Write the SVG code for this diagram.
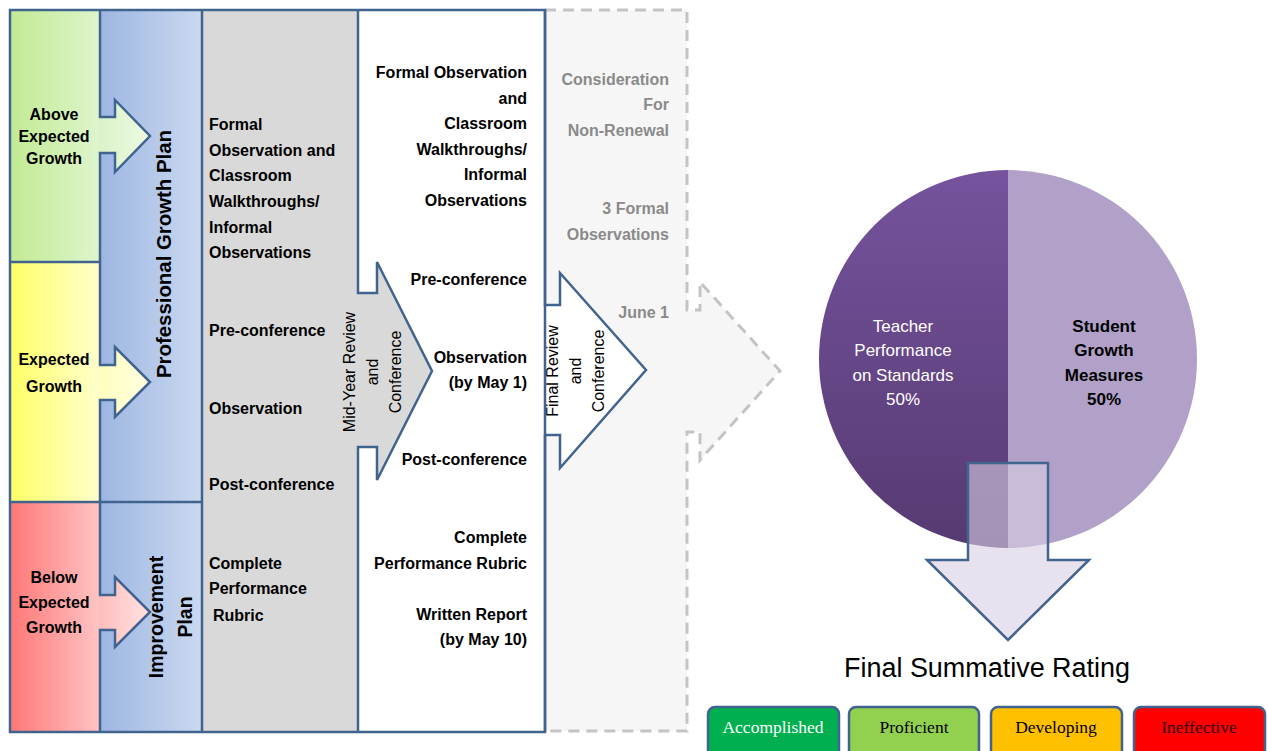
<svg xmlns="http://www.w3.org/2000/svg" width="1268" height="751" viewBox="0 0 1268 751">
<defs>
  <linearGradient id="gGreen" x1="0" x2="1" y1="0" y2="0"><stop offset="0" stop-color="#c1ea93"/><stop offset="1" stop-color="#def5cc"/></linearGradient>
  <linearGradient id="gYellow" x1="0" x2="1" y1="0" y2="0"><stop offset="0" stop-color="#ffff66"/><stop offset="1" stop-color="#ffffcc"/></linearGradient>
  <linearGradient id="gRed" x1="0" x2="1" y1="0" y2="0"><stop offset="0" stop-color="#ff7777"/><stop offset="1" stop-color="#ffc4c4"/></linearGradient>
  <linearGradient id="gBlue" x1="0" x2="1" y1="0" y2="0"><stop offset="0" stop-color="#9db6e2"/><stop offset="1" stop-color="#cbd9f0"/></linearGradient>
  <linearGradient id="aGreen" x1="0" x2="1" y1="0" y2="0"><stop offset="0" stop-color="#daf3c6"/><stop offset="1" stop-color="#eefae4"/></linearGradient>
  <linearGradient id="aYellow" x1="0" x2="1" y1="0" y2="0"><stop offset="0" stop-color="#ffffbe"/><stop offset="1" stop-color="#ffffe2"/></linearGradient>
  <linearGradient id="aRed" x1="0" x2="1" y1="0" y2="0"><stop offset="0" stop-color="#ffbcbc"/><stop offset="1" stop-color="#ffe2e2"/></linearGradient>
  <linearGradient id="gPie" x1="0" x2="0" y1="0" y2="1"><stop offset="0" stop-color="#76539d"/><stop offset="1" stop-color="#553a72"/></linearGradient>
</defs>
<style>
  .t {font-family:"Liberation Sans",Arial,sans-serif;font-weight:bold;font-size:16px;fill:#000}
  .g {fill:#8a8a8a}
  .r {font-family:"Liberation Sans",Arial,sans-serif;font-size:16px;fill:#000}
  .v {font-family:"Liberation Sans",Arial,sans-serif;font-weight:bold;font-size:19.5px;fill:#000}
  .p {font-family:"Liberation Sans",Arial,sans-serif;font-size:17px}
  .sep {fill:none;stroke:#41648f;stroke-width:2.5;stroke-linejoin:miter}
  .dash {fill:none;stroke:#c4c4c4;stroke-width:3;stroke-dasharray:11 7}
  .rate {stroke:#41648f;stroke-width:2.5}
  .rt {font-family:"Liberation Serif","Times New Roman",serif;font-size:17.5px;text-anchor:middle}
</style>

<g id="non-renewal">
  <path d="M545,10 H687 V310 H700 V282 L780,371 L700,460 V432 H687 V731 H545 Z" fill="#f6f6f6"/>
  <path class="dash" d="M545,10 H687 V310 H700 V282 L780,371 L700,460 V432 H687 V731 H545"/>
  <g class="t g" text-anchor="end">
    <text x="669" y="85">Consideration</text>
    <text x="669" y="110">For</text>
    <text x="669" y="136">Non-Renewal</text>
    <text x="669" y="214">3 Formal</text>
    <text x="669" y="240">Observations</text>
    <text x="669" y="318">June 1</text>
  </g>
</g>

<g id="second-half">
  <path d="M358,10 H545 V305 H560 V273 L646,370 L560,468 V435 H545 V732 H358 Z" fill="#ffffff"/>
  <g class="t" text-anchor="end">
    <text x="527" y="78">Formal Observation</text>
    <text x="527" y="104">and</text>
    <text x="527" y="129">Classroom</text>
    <text x="527" y="155">Walkthroughs/</text>
    <text x="527" y="180">Informal</text>
    <text x="527" y="206">Observations</text>
    <text x="527" y="285">Pre-conference</text>
    <text x="527" y="363">Observation</text>
    <text x="527" y="388">(by May 1)</text>
    <text x="527" y="465">Post-conference</text>
    <text x="527" y="543">Complete</text>
    <text x="527" y="569">Performance Rubric</text>
    <text x="527" y="620">Written Report</text>
    <text x="527" y="645">(by May 10)</text>
  </g>
</g>

<g id="first-half">
  <path d="M202,10 H358 V293 H377 V262 L432,371 L377,480 V447 H358 V732 H202 Z" fill="#d9d9d9"/>
  <g class="t">
    <text x="209" y="130">Formal</text>
    <text x="209" y="156">Observation and</text>
    <text x="209" y="181">Classroom</text>
    <text x="209" y="207">Walkthroughs/</text>
    <text x="209" y="233">Informal</text>
    <text x="209" y="258">Observations</text>
    <text x="209" y="336">Pre-conference</text>
    <text x="209" y="414">Observation</text>
    <text x="209" y="490">Post-conference</text>
    <text x="209" y="569">Complete</text>
    <text x="209" y="594">Performance</text>
    <text x="213" y="621">Rubric</text>
  </g>
</g>

<g id="plans">
  <rect x="100" y="10" width="102" height="722" fill="url(#gBlue)"/>
  <text class="v" transform="translate(171,254) rotate(-90)" text-anchor="middle" textLength="248" lengthAdjust="spacingAndGlyphs">Professional Growth Plan</text>
  <text class="v" transform="translate(163,617) rotate(-90)" text-anchor="middle">Improvement</text>
  <text class="v" transform="translate(192,617) rotate(-90)" text-anchor="middle">Plan</text>
</g>

<g id="above-expected">
  <rect x="10" y="10" width="90" height="252" fill="url(#gGreen)"/>
  <path d="M99,117 H115 V100 L150,136 L115,172 V153 H99 Z" fill="url(#aGreen)"/>
  <g class="t" text-anchor="middle">
    <text x="54" y="120">Above</text>
    <text x="54" y="142">Expected</text>
    <text x="54" y="164">Growth</text>
  </g>
</g>

<g id="expected">
  <rect x="10" y="262" width="90" height="240" fill="url(#gYellow)"/>
  <path d="M99,365 H115 V347 L150,382 L115,417 V400 H99 Z" fill="url(#aYellow)"/>
  <g class="t" text-anchor="middle">
    <text x="54" y="365">Expected</text>
    <text x="54" y="392">Growth</text>
  </g>
</g>

<g id="below-expected">
  <rect x="10" y="502" width="90" height="230" fill="url(#gRed)"/>
  <path d="M99,595 H115 V577 L150,612 L115,647 V630 H99 Z" fill="url(#aRed)"/>
  <g class="t" text-anchor="middle">
    <text x="54" y="583">Below</text>
    <text x="54" y="608">Expected</text>
    <text x="54" y="633">Growth</text>
  </g>
</g>

<g id="mid-year-review">
  <g class="r" text-anchor="middle">
    <text transform="translate(355,372) rotate(-90)">Mid-Year Review</text>
    <text transform="translate(378,372) rotate(-90)">and</text>
    <text transform="translate(401,372) rotate(-90)">Conference</text>
  </g>
</g>

<g id="final-review">
  <g class="r" text-anchor="middle">
    <text transform="translate(558,371) rotate(-90)">Final Review</text>
    <text transform="translate(581,371) rotate(-90)">and</text>
    <text transform="translate(604,371) rotate(-90)">Conference</text>
  </g>
</g>

<g id="connectors">
  <path class="sep" d="M100,10 V117 H115 V100 L150,136 L115,172 V153 H100 V365 H115 V347 L150,382 L115,417 V400 H100 V595 H115 V577 L150,612 L115,647 V630 H100 V732"/>
  <path class="sep" d="M10,262 H100 M10,502 H202 M202,10 V732"/>
  <path class="sep" d="M358,10 V293 H377 V262 L432,371 L377,480 V447 H358 V732"/>
  <path class="sep" d="M545,10 V305 H560 V273 L646,370 L560,468 V435 H545 V732"/>
  <rect class="sep" x="10" y="10" width="535" height="722"/>
</g>

<g id="pie">
  <path d="M1008,170 A189,189 0 0 0 1008,548 Z" fill="url(#gPie)"/>
  <path d="M1008,170 A189,189 0 0 1 1008,548 Z" fill="#b1a1c8"/>
  <g class="p" text-anchor="middle" fill="#ffffff">
    <text x="903" y="332">Teacher</text>
    <text x="903" y="356">Performance</text>
    <text x="903" y="381">on Standards</text>
    <text x="903" y="405">50%</text>
  </g>
  <g class="p" text-anchor="middle" fill="#000000" font-weight="bold">
    <text x="1104" y="332">Student</text>
    <text x="1104" y="356">Growth</text>
    <text x="1104" y="381">Measures</text>
    <text x="1104" y="405">50%</text>
  </g>
</g>

<g id="down-arrow">
  <path d="M968,463 H1048 V560 H1089 L1008,640 L927,560 H968 Z" fill="#d8cfe4" fill-opacity="0.6" stroke="#41648f" stroke-width="2.5"/>
</g>

<g id="final-rating">
  <text x="987" y="677" font-family="'Liberation Sans',Arial,sans-serif" font-size="27" text-anchor="middle" textLength="286" lengthAdjust="spacingAndGlyphs">Final Summative Rating</text>
</g>

<g id="accomplished">
  <rect class="rate" x="708" y="707" width="131" height="50" rx="7" fill="#00b050"/>
  <text class="rt" x="773" y="733" fill="#ffffff">Accomplished</text>
</g>
<g id="proficient">
  <rect class="rate" x="849" y="707" width="130" height="50" rx="7" fill="#92d050"/>
  <text class="rt" x="914" y="733" fill="#000000">Proficient</text>
</g>
<g id="developing">
  <rect class="rate" x="991" y="707" width="131" height="50" rx="7" fill="#ffc000"/>
  <text class="rt" x="1056" y="733" fill="#000000">Developing</text>
</g>
<g id="ineffective">
  <rect class="rate" x="1134" y="707" width="131" height="50" rx="7" fill="#ff0000"/>
  <text class="rt" x="1199" y="733" fill="#2a0000">Ineffective</text>
</g>
</svg>
